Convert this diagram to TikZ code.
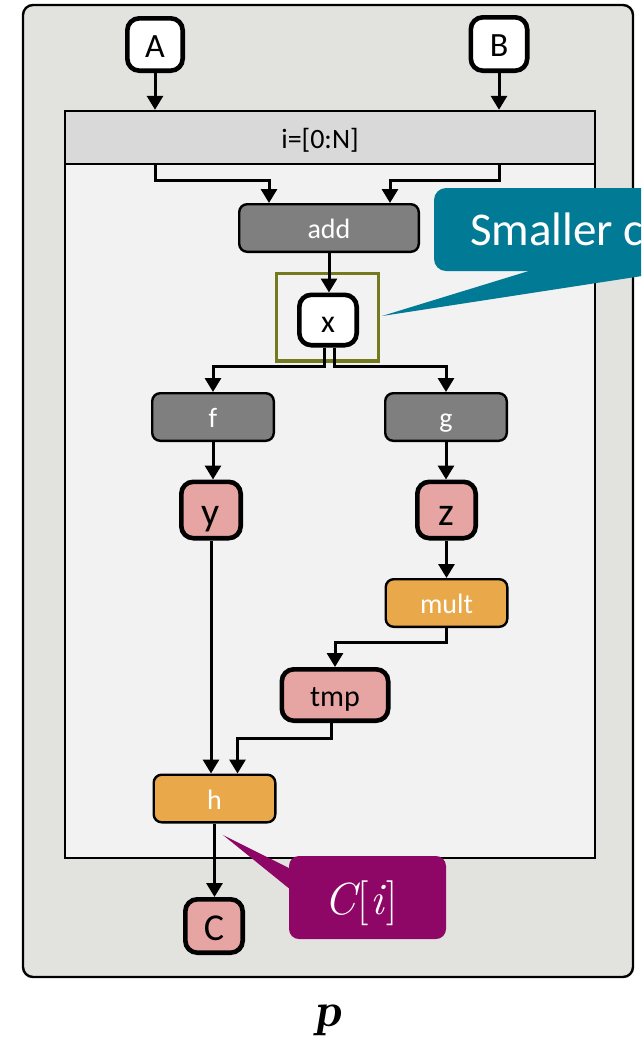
\documentclass[tikz,border=0pt]{standalone}
\usepackage{fontspec}
\setmainfont{Carlito}
\usetikzlibrary{arrows.meta}

\definecolor{outerfill}{HTML}{E2E3DE}
\definecolor{headfill}{HTML}{D9D9D9}
\definecolor{bodyfill}{HTML}{F2F2F2}
\definecolor{opgray}{HTML}{7F7F7F}
\definecolor{datapink}{HTML}{E6A5A2}
\definecolor{oporange}{HTML}{E9A94B}
\definecolor{calloutteal}{HTML}{007A95}
\definecolor{calloutmagenta}{HTML}{8E0766}
\definecolor{olivebox}{HTML}{767A1E}

% strut that puts the baseline 0.38em below the centre of a box
\newcommand\ctrstrut{\rule{0pt}{0.76em}}
% Latin Modern for the formula-like labels
\newcommand\lmfam{\fontfamily{lmr}\selectfont}

\begin{document}
\begin{tikzpicture}[x=1pt,y=-1pt,
  fs/.style={font=\fontsize{#1}{#1}\selectfont},
  boxtext/.style={inner sep=0pt, text depth=0pt, execute at begin node=\ctrstrut},
  opnode/.style={boxtext, draw=black, line width=2.4pt, rounded corners=8pt,
    text=white, fs=28, minimum width=121.6pt, minimum height=47.6pt},
  graynode/.style={opnode, fill=opgray},
  orangenode/.style={opnode, fill=oporange},
  datanode/.style={boxtext, draw=black, line width=4.6pt, rounded corners=12pt, text=black},
  whitedata/.style={datanode, fill=white},
  pinkdata/.style={datanode, fill=datapink},
  framebox/.style={draw=black, line width=2.4pt, inner sep=0pt},
  arr/.style={line width=3pt, -{Triangle[length=14pt,width=16pt]}},
]
\useasboundingbox (0,0) rectangle (641,1045);
\clip (0,0) rectangle (641,1045);

% process frame and loop region
\node[framebox, fill=outerfill, rounded corners=10pt,
  minimum width=610pt, minimum height=972pt] (outer) at (328,491) {};
\node[framebox, fill=bodyfill,
  minimum width=530pt, minimum height=694pt] (body) at (330,511) {};
\node[framebox, fill=headfill,
  minimum width=530pt, minimum height=53pt] (head) at (330,137.5) {};
\node[anchor=base, fs=28] (headlabel) at (320,148) {i=[0:N]};

% highlight around x
\node[draw=olivebox, line width=3.8pt, minimum width=102pt, minimum height=87.5pt,
  inner sep=0pt] (xframe) at (327.5,317.25) {};

% data containers
\node[whitedata, fs=34, minimum width=55.4pt, minimum height=52.4pt] (A) at (155,44.5) {A};
\node[whitedata, fs=34, minimum width=56.4pt, minimum height=53.4pt] (B) at (499,44) {B};
\node[whitedata, fs=32, minimum width=57.4pt, minimum height=50.4pt] (x) at (328,320) {x};
\node[pinkdata, fs=40, minimum width=59.4pt, minimum height=56.4pt] (y) at (211,510) {y};
\node[pinkdata, fs=40, minimum width=58.4pt, minimum height=56.4pt] (z) at (446.5,510) {z};
\node[pinkdata, fs=30, minimum width=106.4pt, minimum height=51.4pt] (tmp) at (335,695) {tmp};
\node[pinkdata, fs=38, minimum width=57.4pt, minimum height=53.4pt] (C) at (214,926) {C};

% operations
\node[graynode, minimum width=179.6pt] (add) at (329,228) {add};
\node[graynode] (f) at (213,417) {f};
\node[graynode] (g) at (446,417) {g};
\node[orangenode] (mult) at (446.5,603) {mult};
\node[orangenode] (h) at (214.5,798.5) {h};

% dataflow
\draw[arr] (A.south) -- (A.south |- head.north);
\draw[arr] (B.south) -- (B.south |- head.north);
\draw[arr] (A.south |- head.south) -- ++(0,15) -| ([xshift=-60pt]add.north);
\draw[arr] (B.south |- head.south) -- ++(0,15) -| ([xshift=61pt]add.north);
\draw[arr] (add.south) -- (add.south |- x.north);
\draw[arr] ([xshift=-4pt]x.south) -- ++(0,19) -| (f.north);
\draw[arr] ([xshift=6pt]x.south) -- ++(0,19) -| (g.north);
\draw[arr] (f.south) -- (f.south |- y.north);
\draw[arr] (g.south) -- (g.south |- z.north);
\draw[arr] (z.south) -- (z.south |- mult.north);
\draw[arr] (mult.south) -- ++(0,14) -| (tmp.north);
\draw[arr] (y.south) -- (y.south |- h.north);
\draw[arr] ([xshift=-4pt]tmp.south) -- ++(0,15) -| ([xshift=23pt]h.north);
\draw[arr] (h.south) -- (h.south |- C.north);

% callout pointing at x
\fill[calloutteal, rounded corners=12pt] (434,188) rectangle (790,271);
\fill[calloutteal] (532,270) -- (382,316) -- (681,270) -- cycle;
\node[anchor=base west, text=white, fs=47, inner sep=0pt] (smallnote) at (470,245) {Smaller c};

% callout pointing at h
\fill[calloutmagenta, rounded corners=10pt] (289,856) rectangle (446,939);
\fill[calloutmagenta] (291,869) -- (223,835) -- (291,890) -- cycle;
\node[anchor=base, text=white, fs=45, inner sep=0pt] (cinote) at (361,914)
  {\lmfam\itshape C\kern2pt\upshape[\kern1pt\itshape i\kern3pt\upshape]};

% process name
\node[anchor=base, fs=48, inner sep=0pt] (plabel) at (328,1026) {\lmfam\bfseries\itshape p};
\end{tikzpicture}
\end{document}
